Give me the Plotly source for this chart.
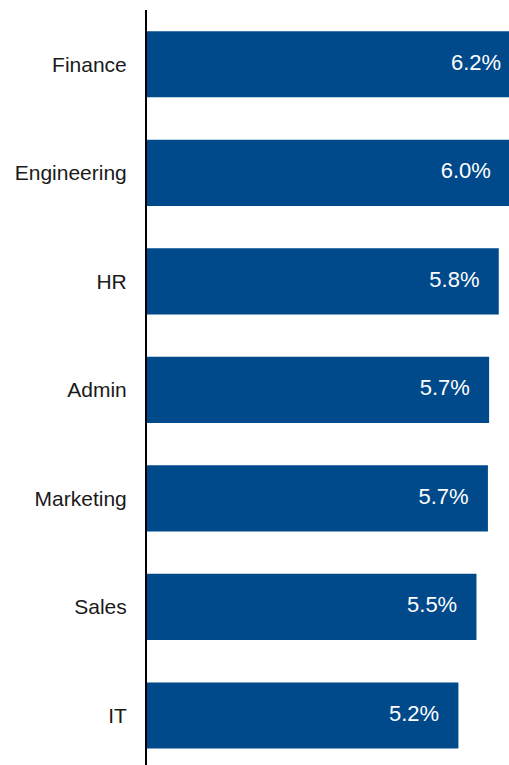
import plotly.graph_objects as go

# Department rates (%), listed top to bottom
departments = ["Finance", "Engineering", "HR", "Admin", "Marketing", "Sales", "IT"]
rates = [6.2, 6.03, 5.84, 5.68, 5.66, 5.47, 5.17]

BAR_COLOR = "#00498B"
FONT = "Liberation Sans, Arial, Helvetica, sans-serif"
LABEL_INSET = 0.32  # label right edge sits this far (axis units) inside the bar end

fig = go.Figure()

fig.add_trace(go.Bar(
    x=rates,
    y=departments,
    orientation="h",
    marker=dict(color=BAR_COLOR, line=dict(width=0)),
    width=0.61,
    hoverinfo="skip",
))

fig.add_trace(go.Scatter(
    x=[r - LABEL_INSET for r in rates],
    y=departments,
    mode="text",
    text=[f"{r:.1f}%" for r in rates],
    textposition="middle left",
    textfont=dict(family=FONT, size=22, color="white"),
    cliponaxis=False,
    hoverinfo="skip",
))

fig.update_layout(
    width=509,
    height=765,
    margin=dict(l=147, r=0, t=10, b=0),
    paper_bgcolor="white",
    plot_bgcolor="white",
    showlegend=False,
    xaxis=dict(
        range=[0, 6.01],
        visible=False,
        showgrid=False,
        zeroline=False,
    ),
    yaxis=dict(
        categoryorder="array",
        categoryarray=departments,
        range=[6.456, -0.5],
        showgrid=False,
        zeroline=False,
        showline=True,
        linecolor="black",
        linewidth=2,
        ticks="",
        ticklabelstandoff=14,
        tickfont=dict(family=FONT, size=21, color="#1a1a1a"),
    ),
)

fig.write_html("out.html")
